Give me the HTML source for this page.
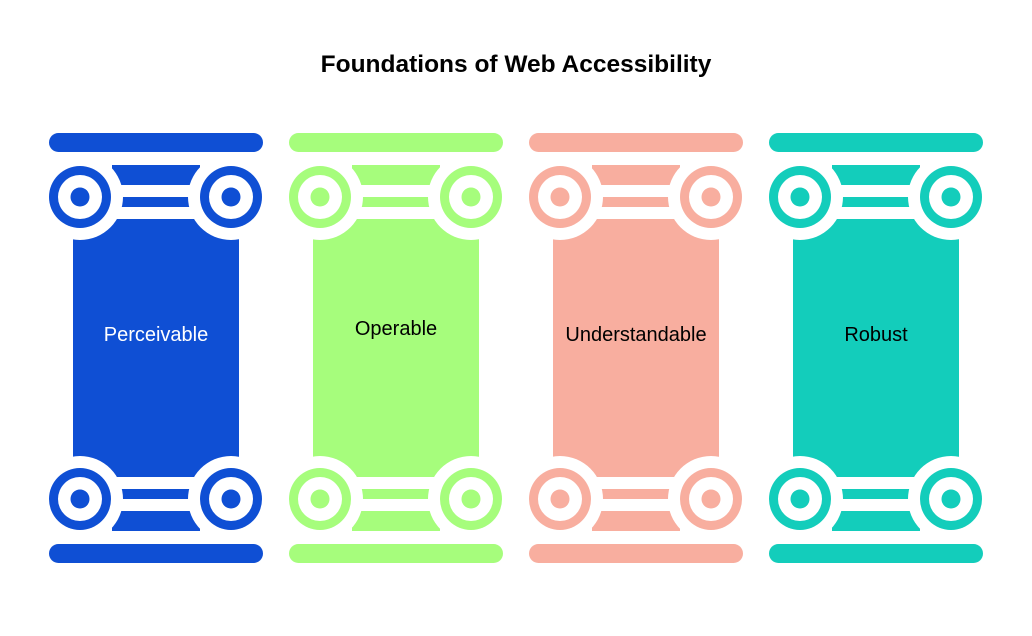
<!DOCTYPE html>
<html><head><meta charset="utf-8"><style>
html,body{margin:0;padding:0;background:#fff;}
svg{display:block;}
text{font-family:"Liberation Sans",Arial,sans-serif;}
</style></head><body>
<svg width="1032" height="636" viewBox="0 0 1032 636" xmlns="http://www.w3.org/2000/svg">
<defs>
<g id="half">
  <rect x="112" y="165" width="88" height="20"/>
  <rect x="112" y="197" width="88" height="10"/>
  <rect x="73" y="219" width="166" height="130"/>
  <circle cx="80" cy="197" r="43" fill="#fff"/>
  <circle cx="231" cy="197" r="43" fill="#fff"/>
  <rect x="49" y="133" width="214" height="19" rx="9.5"/>
  <circle cx="80" cy="197" r="31"/>
  <circle cx="80" cy="197" r="22" fill="#fff"/>
  <circle cx="80" cy="197" r="9.5"/>
  <circle cx="231" cy="197" r="31"/>
  <circle cx="231" cy="197" r="22" fill="#fff"/>
  <circle cx="231" cy="197" r="9.5"/>
</g>
<g id="pillar">
  <use href="#half"/>
  <use href="#half" transform="translate(0,696) scale(1,-1)"/>
</g>
</defs>
<text x="516" y="72" text-anchor="middle" font-size="24.5" font-weight="bold" fill="#000">Foundations of Web Accessibility</text>
<g fill="#0f4fd4"><use href="#pillar"/></g>
<g fill="#a6fd7c" transform="translate(240,0)"><use href="#pillar"/></g>
<g fill="#f8ae9f" transform="translate(480,0)"><use href="#pillar"/></g>
<g fill="#13cdbb" transform="translate(720,0)"><use href="#pillar"/></g>
<text x="156" y="341" text-anchor="middle" font-size="20" fill="#fff">Perceivable</text>
<text x="396" y="335" text-anchor="middle" font-size="20" fill="#000">Operable</text>
<text x="636" y="341" text-anchor="middle" font-size="20" fill="#000">Understandable</text>
<text x="876" y="341" text-anchor="middle" font-size="20" fill="#000">Robust</text>
</svg>
</body></html>
